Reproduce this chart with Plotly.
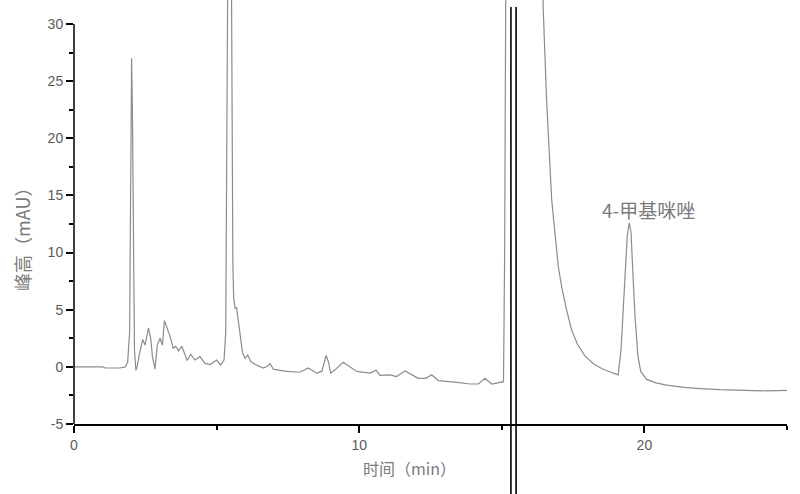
import plotly.graph_objects as go

# Chromatogram: retention time (min) and peak height (mAU)
time_min = [
    0.0, 0.5, 1.0, 1.1, 1.6, 1.8, 1.88, 1.95, 1.98, 2.02, 2.05, 2.08, 2.12, 2.17,
    2.22, 2.3, 2.41, 2.49, 2.56, 2.61, 2.69, 2.75, 2.84, 2.92, 3.02, 3.10, 3.17,
    3.25, 3.37, 3.48, 3.55, 3.60, 3.66, 3.78, 3.89, 3.97, 4.09, 4.24, 4.42, 4.59,
    4.77, 5.00, 5.14, 5.26, 5.32, 5.36, 5.40, 5.45, 5.50, 5.54, 5.57, 5.60, 5.65,
    5.70, 5.76, 5.82, 5.91, 6.00, 6.09, 6.20, 6.40, 6.64, 6.80, 6.87, 6.99, 7.22,
    7.46, 7.92, 8.22, 8.51, 8.69, 8.84, 8.92, 9.00, 9.15, 9.44, 9.68, 9.91, 10.38,
    10.59, 10.73, 11.08, 11.31, 11.61, 12.07, 12.34, 12.54, 12.77, 13.42, 13.89,
    14.18, 14.41, 14.65, 15.00, 15.06, 15.10, 15.15, 15.30,
    16.00, 16.35, 16.45, 16.57, 16.75, 16.98, 17.10, 17.27, 17.45, 17.65, 17.90,
    18.20, 18.50, 18.80, 19.08, 19.18, 19.30, 19.40, 19.47, 19.53, 19.60, 19.67,
    19.77, 19.87, 20.08, 20.40, 20.78, 21.40, 21.95, 22.65, 23.50, 24.30, 25.00,
]
height_mau = [
    0.0, 0.0, 0.0, -0.1, -0.1, 0.0, 0.4, 3.0, 14.0, 27.0, 22.0, 10.0, 1.5, -0.3,
    0.1, 1.2, 2.4, 1.9, 2.8, 3.4, 2.5, 0.9, -0.2, 1.9, 2.5, 1.9, 4.05,
    3.5, 2.65, 1.6, 1.8, 1.7, 1.4, 1.8, 1.05, 0.55, 1.1, 0.6, 0.9, 0.3,
    0.2, 0.6, 0.15, 0.6, 3.0, 20.0, 45.0, 60.0, 45.0, 20.0, 9.0, 6.0, 5.1,
    5.2, 4.0, 3.2, 1.2, 0.75, 1.05, 0.45, 0.15, -0.1, 0.1, 0.3, -0.2, -0.3,
    -0.4, -0.47, -0.1, -0.55, -0.4, 1.0, 0.45, -0.55, -0.26, 0.4, 0.0, -0.4, -0.55,
    -0.3, -0.75, -0.7, -0.85, -0.35, -1.0, -1.0, -0.7, -1.2, -1.35, -1.5,
    -1.5, -1.0, -1.5, -1.35, -1.3, 10.0, 40.0, 200.0,
    200.0, 60.0, 31.5, 23.4, 14.6, 8.8, 7.0, 5.0, 3.2, 2.0, 1.0,
    0.3, -0.15, -0.45, -0.7, 1.5, 7.0, 11.5, 12.6, 11.8, 8.0, 4.5,
    1.0, -0.4, -1.1, -1.4, -1.6, -1.8, -1.9, -2.0, -2.05, -2.1, -2.05,
]

x_tick_vals = [0, 10, 20]
x_tick_text = ["0", "10", "20"]
y_tick_vals = [-5, 0, 5, 10, 15, 20, 25, 30]
y_tick_text = ["-5", "0", "5", "10", "15", "20", "25", "30"]
break_positions = [15.32, 15.5]
peak_label = "4-甲基咪唑"
peak_label_pos = (20.13, 13.8)
x_title = "时间（min）"
y_title = "峰高（mAU）"

X_RANGE = [0, 25]
Y_RANGE = [-5, 32.1]
Y_AXIS_TOP = 30
M_L, M_R, M_T, M_B = 74, 13, 0, 70
W, H = 800, 494
plot_h = H - M_T - M_B

fig = go.Figure()
fig.add_trace(go.Scatter(
    x=time_min, y=height_mau, mode="lines",
    line=dict(color="#8c8c8c", width=1.2),
    showlegend=False, hoverinfo="skip",
))

tick_font = dict(family="Liberation Sans, Arial, sans-serif", size=14, color="#5a5a5a")

fig.update_xaxes(
    range=X_RANGE, showgrid=False, zeroline=False,
    showline=True, linecolor="black", linewidth=1.5,
    ticks="outside", ticklen=7, tickwidth=1.5, tickcolor="black",
    tickvals=x_tick_vals, ticktext=x_tick_text, tickfont=tick_font,
    minor=dict(dtick=5, tick0=0, ticks="outside", ticklen=4, tickwidth=1.5, tickcolor="black"),
)
fig.update_yaxes(
    range=Y_RANGE, showgrid=False, zeroline=False, showline=False,
    ticks="outside", ticklen=7, tickwidth=1.5, tickcolor="black",
    tickvals=y_tick_vals, ticktext=y_tick_text, tickfont=tick_font,
    minor=dict(dtick=2.5, tick0=0, ticks="outside", ticklen=4, tickwidth=1.5, tickcolor="black"),
)

def xp(v):
    return (v - X_RANGE[0]) / (X_RANGE[1] - X_RANGE[0])

def yp(v):
    return (v - Y_RANGE[0]) / (Y_RANGE[1] - Y_RANGE[0])

# y-axis line only up to 30
fig.add_shape(type="line", xref="paper", yref="paper", x0=0, x1=0, y0=0, y1=yp(Y_AXIS_TOP),
              line=dict(color="black", width=1.5))
# axis-break double lines
for b in break_positions:
    fig.add_shape(type="line", xref="paper", yref="paper", x0=xp(b), x1=xp(b),
                  y0=-M_B / plot_h, y1=1 - 7 / plot_h, line=dict(color="black", width=1.6))

title_font = dict(family="Noto Sans CJK SC, sans-serif", color="#7a7a7a")
fig.add_annotation(text=y_title, xref="paper", yref="paper", x=0, y=0.446,
                   xanchor="center", yanchor="middle",
                   xshift=-52, textangle=-90, showarrow=False,
                   font=dict(size=18, **title_font))
fig.add_annotation(text=x_title, xref="paper", yref="paper", x=0.471, y=0,
                   xanchor="center", yanchor="middle",
                   yshift=-44, showarrow=False, font=dict(size=16, **title_font))
fig.add_annotation(text=peak_label, x=peak_label_pos[0], y=peak_label_pos[1],
                   showarrow=False, font=dict(size=19, **title_font))

fig.update_layout(
    width=W, height=H,
    margin=dict(l=M_L, r=M_R, t=M_T, b=M_B),
    plot_bgcolor="white", paper_bgcolor="white",
)

fig.write_html("out.html", config={"displayModeBar": False},
               post_script="document.body.style.margin='0';document.body.style.overflow='hidden';")
